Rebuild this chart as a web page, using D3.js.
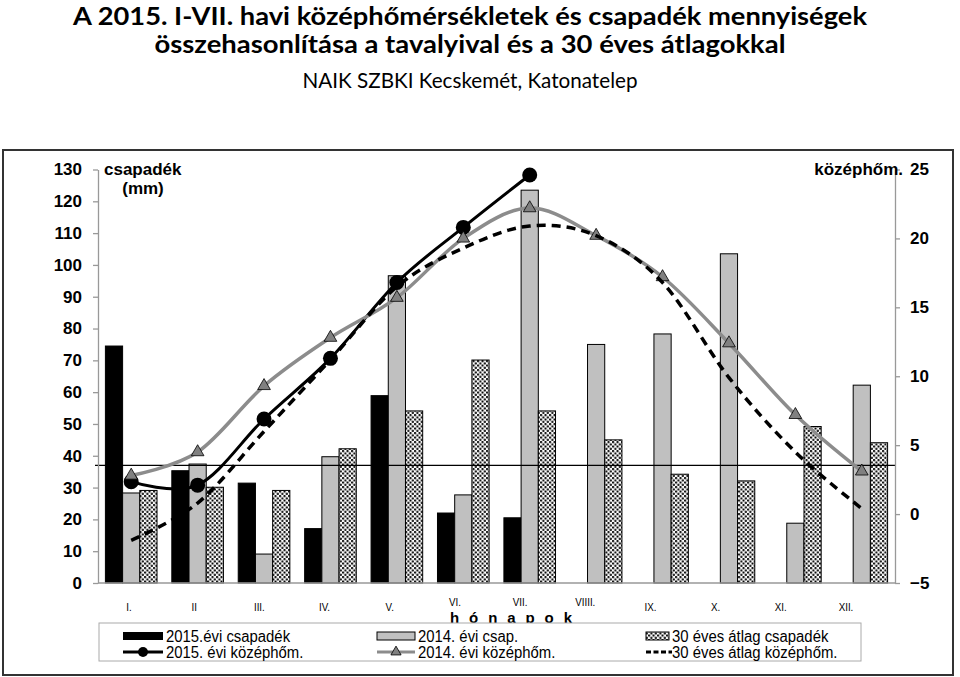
<!DOCTYPE html>
<html>
<head>
<meta charset="utf-8">
<script src="https://cdn.jsdelivr.net/npm/d3@7"></script>
<style>
  html, body { margin: 0; padding: 0; background: #fff; }
  svg { display: block; }
</style>
</head>
<body>
<svg id="chart" width="960" height="677"></svg>
<script>
// ---------------- DATA ----------------
const months = ["I.", "II", "III.", "IV.", "V.", "VI.", "VII.", "VIIII.", "IX.", "X.", "XI.", "XII."];
const precip2015 = [74.5, 35.3, 31.4, 17.1, 58.9, 22.0, 20.5, null, null, null, null, null];
const precip2014 = [28.3, 37.4, 9.1, 39.7, 96.6, 27.7, 123.5, 75.0, 78.3, 103.5, 18.8, 62.2];
const precip30 = [29.1, 30.1, 29.1, 42.2, 54.1, 70.1, 54.1, 45.0, 34.2, 32.1, 49.2, 44.1];
const temp2015 = [2.35, 2.1, 6.9, 11.3, 16.8, 20.8, 24.6, null, null, null, null, null];
const temp2014 = [2.8, 4.5, 9.3, 12.8, 15.7, 20.0, 22.2, 20.2, 17.2, 12.4, 7.2, 3.1];
const temp30 = [-1.9, 0.8, 6.0, 11.2, 16.5, 19.3, 20.9, 20.2, 16.8, 9.9, 4.5, 0.4];
const precipTicks = d3.range(0, 131, 10);
const tempTicks = d3.range(-5, 26, 5);
const refLevel = 37; // horizontal reference line (mm)
const titleLines = [
  "A 2015. I-VII. havi középhőmérsékletek és csapadék mennyiségek",
  "összehasonlítása a tavalyival és a 30 éves átlagokkal",
  "NAIK SZBKI Kecskemét, Katonatelep"
];
const legendItems = [
  {label: "2015.évi csapadék", kind: "barBlack"},
  {label: "2014. évi csap.", kind: "barGray"},
  {label: "30 éves átlag csapadék", kind: "barDot"},
  {label: "2015. évi középhőm.", kind: "lineBlack"},
  {label: "2014. évi középhőm.", kind: "lineGray"},
  {label: "30 éves átlag középhőm.", kind: "lineDash"}
];

// ---------------- SETUP ----------------
const svg = d3.select("#chart");
const sans = "'Liberation Sans', Arial, sans-serif";
// condensed look (Arial Narrow-like): shrink measured width
function condense(sel, k) {
  sel.each(function () {
    const w = this.getComputedTextLength();
    d3.select(this).attr("textLength", w * k).attr("lengthAdjust", "spacingAndGlyphs");
  });
}

const defs = svg.append("defs");
const pat = defs.append("pattern").attr("id", "dots").attr("patternUnits", "userSpaceOnUse")
  .attr("width", 4.5).attr("height", 4.5);
pat.append("rect").attr("width", 4.5).attr("height", 4.5).attr("fill", "#fff");
pat.append("circle").attr("cx", 1.1).attr("cy", 1.1).attr("r", 1.15).attr("fill", "#000");
pat.append("circle").attr("cx", 3.35).attr("cy", 3.35).attr("r", 1.15).attr("fill", "#000");

// Title
const titleSpec = [
  {y: 25, size: 24, weight: "bold", w: 794},
  {y: 53, size: 24, weight: "bold", w: 631},
  {y: 88, size: 21, weight: "normal", w: 335}
];
titleLines.forEach((t, i) => {
  svg.append("text").attr("x", 470).attr("y", titleSpec[i].y)
    .attr("text-anchor", "middle")
    .attr("font-family", "Lato, 'Open Sans', sans-serif")
    .attr("font-size", titleSpec[i].size).attr("font-weight", titleSpec[i].weight)
    .attr("textLength", titleSpec[i].w).attr("lengthAdjust", "spacingAndGlyphs")
    .attr("fill", "#000").text(t);
});

// Chart frame
svg.append("rect").attr("x", 3).attr("y", 150).attr("width", 950).attr("height", 525)
  .attr("fill", "none").attr("stroke", "#333").attr("stroke-width", 2);

// Scales
const x = d3.scaleBand().domain(months).range([98, 895]).padding(0);
const xi = d3.scaleBand().domain(["p15", "p14", "p30"]).range([0, x.bandwidth()])
  .paddingInner(0).paddingOuter(0.43);
const yL = d3.scaleLinear().domain([0, 130]).range([583, 169.5]);
const yR = d3.scaleLinear().domain([-5, 25]).range([583, 169.5]);
const cx = i => x(months[i]) + x.bandwidth() / 2;

// Bars
const barSeries = [
  {key: "p15", vals: precip2015, fill: "#000"},
  {key: "p14", vals: precip2014, fill: "#c0c0c0"},
  {key: "p30", vals: precip30, fill: "url(#dots)"}
];
const gBars = svg.append("g");
barSeries.forEach(s => {
  gBars.selectAll(null).data(s.vals.map((v, i) => ({v, i})).filter(d => d.v != null))
    .enter().append("rect")
    .attr("x", d => x(months[d.i]) + xi(s.key))
    .attr("y", d => yL(d.v))
    .attr("width", xi.bandwidth())
    .attr("height", d => yL(0) - yL(d.v))
    .attr("fill", s.fill).attr("stroke", "#000").attr("stroke-width", 1);
});

// Reference line
svg.append("line").attr("x1", 95).attr("x2", 895).attr("y1", yL(refLevel)).attr("y2", yL(refLevel))
  .attr("stroke", "#000").attr("stroke-width", 1.2);

// Axes
const axL = svg.append("g").attr("transform", "translate(98,0)")
  .call(d3.axisLeft(yL).tickValues(precipTicks).tickSize(5).tickSizeOuter(0).tickPadding(11));
const axR = svg.append("g").attr("transform", "translate(895,0)")
  .call(d3.axisRight(yR).tickValues(tempTicks).tickSize(5).tickSizeOuter(0).tickPadding(10));
[axL, axR].forEach(a => {
  a.select(".domain").attr("stroke", "#999").attr("stroke-width", 1.3);
  a.selectAll(".tick line").attr("stroke", "#999").attr("stroke-width", 1.3);
  a.selectAll(".tick text").attr("font-family", sans).attr("font-size", 17)
    .attr("font-weight", "bold").attr("fill", "#000");
});
svg.append("line").attr("x1", 98).attr("x2", 895).attr("y1", yL(0)).attr("y2", yL(0))
  .attr("stroke", "#999").attr("stroke-width", 1.3);

// Axis titles
svg.append("text").attr("x", 104).attr("y", 175).attr("font-family", sans).attr("font-size", 17)
  .attr("font-weight", "bold").text("csapadék");
svg.append("text").attr("x", 143).attr("y", 194).attr("text-anchor", "middle").attr("font-family", sans)
  .attr("font-size", 17).attr("font-weight", "bold").text("(mm)");
svg.append("text").attr("x", 903).attr("y", 175).attr("text-anchor", "end").attr("font-family", sans)
  .attr("font-size", 17).attr("font-weight", "bold").text("középhőm.");

// Month labels
const labelX = d3.scalePoint().domain(months).range([129, 846]);
const raised = new Set(["VI.", "VII.", "VIIII."]);
svg.append("g").selectAll("text").data(months).enter().append("text")
  .attr("x", d => labelX(d)).attr("y", d => raised.has(d) ? 606 : 611)
  .attr("text-anchor", "middle").attr("font-family", sans).attr("font-size", 11.5)
  .attr("fill", "#000").text(d => d)
  .call(condense, 0.85);
svg.append("text").attr("x", 511).attr("y", 623).attr("text-anchor", "middle")
  .attr("font-family", sans).attr("font-size", 15).attr("font-weight", "bold")
  .attr("textLength", 122).attr("lengthAdjust", "spacing").text("h ó n a p o k");

// Lines
const smooth = d3.curveCatmullRom.alpha(0);
const mkLine = vals => d3.line().x(d => cx(d.i)).y(d => yR(d.v)).curve(smooth)(
  vals.map((v, i) => ({v, i})).filter(d => d.v != null));
const tri = d3.symbol().type(d3.symbolTriangle).size(70);

svg.append("path").attr("d", mkLine(temp2015)).attr("fill", "none").attr("stroke", "#000").attr("stroke-width", 3);
svg.append("g").selectAll("circle").data(temp2015.map((v, i) => ({v, i})).filter(d => d.v != null))
  .enter().append("circle").attr("cx", d => cx(d.i)).attr("cy", d => yR(d.v)).attr("r", 7.5).attr("fill", "#000");

svg.append("path").attr("d", mkLine(temp2014)).attr("fill", "none").attr("stroke", "#8c8c8c").attr("stroke-width", 3.5);
svg.append("g").selectAll("path").data(temp2014.map((v, i) => ({v, i})))
  .enter().append("path").attr("d", tri)
  .attr("transform", d => `translate(${cx(d.i)},${yR(d.v)})`)
  .attr("fill", "#808080").attr("stroke", "#000").attr("stroke-width", 0.8);

svg.append("path").attr("d", mkLine(temp30)).attr("fill", "none").attr("stroke", "#000")
  .attr("stroke-width", 3.5).attr("stroke-dasharray", "9,6");

// Legend
svg.append("rect").attr("x", 99).attr("y", 623).attr("width", 762).attr("height", 38)
  .attr("fill", "#fff").attr("stroke", "#aaa").attr("stroke-width", 1);
const colX = [123, 377, 646];
const symW = [40, 38, 23];
const rowY = [636, 652];
legendItems.forEach((it, k) => {
  const col = k % 3, row = Math.floor(k / 3);
  const sx = colX[col], sy = rowY[row];
  const g = svg.append("g");
  const sw = symW[col];
  if (it.kind === "barBlack") g.append("rect").attr("x", sx).attr("y", sy - 4).attr("width", sw).attr("height", 8).attr("fill", "#000");
  if (it.kind === "barGray") g.append("rect").attr("x", sx).attr("y", sy - 4).attr("width", sw).attr("height", 8).attr("fill", "#c0c0c0").attr("stroke", "#000");
  if (it.kind === "barDot") g.append("rect").attr("x", sx).attr("y", sy - 4).attr("width", sw).attr("height", 8).attr("fill", "url(#dots)").attr("stroke", "#000");
  if (it.kind === "lineBlack") {
    g.append("line").attr("x1", sx).attr("x2", sx + sw).attr("y1", sy).attr("y2", sy).attr("stroke", "#000").attr("stroke-width", 3);
    g.append("circle").attr("cx", sx + sw / 2).attr("cy", sy).attr("r", 5).attr("fill", "#000");
  }
  if (it.kind === "lineGray") {
    g.append("line").attr("x1", sx).attr("x2", sx + sw).attr("y1", sy).attr("y2", sy).attr("stroke", "#8c8c8c").attr("stroke-width", 3);
    g.append("path").attr("d", d3.symbol().type(d3.symbolTriangle).size(45)).attr("transform", `translate(${sx + sw / 2},${sy})`)
      .attr("fill", "#808080").attr("stroke", "#000").attr("stroke-width", 0.8);
  }
  if (it.kind === "lineDash") g.append("line").attr("x1", sx).attr("x2", sx + sw + 3).attr("y1", sy).attr("y2", sy)
    .attr("stroke", "#000").attr("stroke-width", 3).attr("stroke-dasharray", "5,2.5");
  g.append("text").attr("x", sx + sw + 3).attr("y", sy + 5.5).attr("font-family", sans).attr("font-size", 16)
    .attr("fill", "#000").text(it.label)
    .call(condense, 0.93);
});
</script>
</body>
</html>
